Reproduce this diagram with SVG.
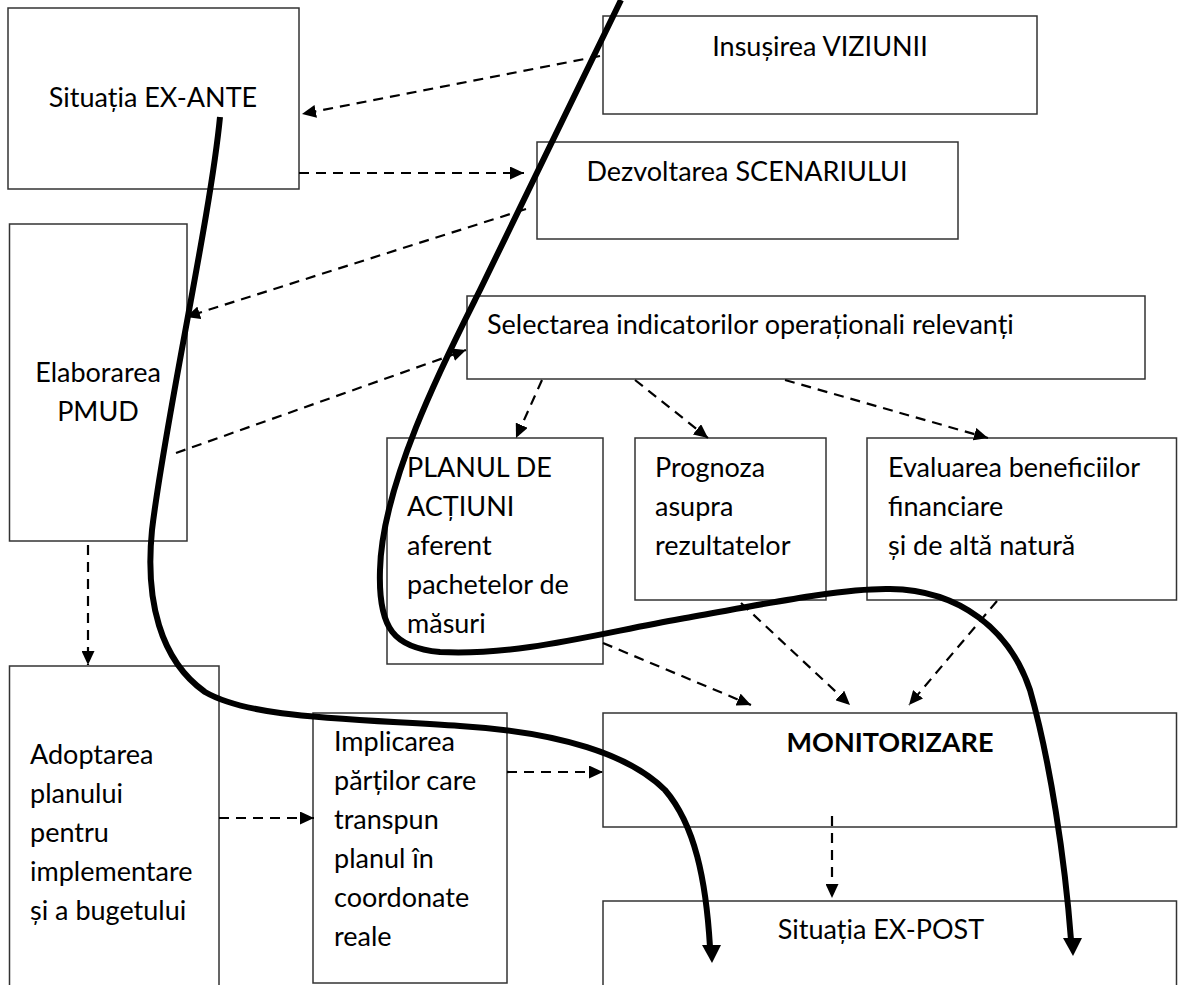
<svg xmlns="http://www.w3.org/2000/svg" width="1178" height="985" viewBox="0 0 1178 985">
<style>
  .box { fill: #fff; stroke: #333; stroke-width: 1.5; }
  .t { font-family: Lato, "Open Sans", "Liberation Sans", sans-serif; font-size: 27px; fill: #000; }
  .c { text-anchor: middle; }
  .b { font-weight: bold; }
  .dash { fill: none; stroke: #000; stroke-width: 2.2; stroke-dasharray: 10 7; marker-end: url(#ah); }
  .thick { fill: none; stroke: #000; stroke-width: 6; stroke-linecap: butt; }
  .head { fill: #000; }
</style>
<defs>
  <marker id="ah" markerUnits="userSpaceOnUse" markerWidth="15" markerHeight="13" refX="14" refY="6.5" orient="auto">
    <path d="M0,0 L14,6.5 L0,13 Z" fill="#000"/>
  </marker>
</defs>
<rect width="1178" height="985" fill="#fff"/>

<g id="ex-ante"><rect class="box" x="8" y="8" width="291" height="181"/><text class="t c" x="153" y="107">Situația EX-ANTE</text></g>
<g id="viziune"><rect class="box" x="603" y="16" width="434" height="98"/><text class="t c" x="820" y="56">Insușirea VIZIUNII</text></g>
<g id="scenariu"><rect class="box" x="537" y="142" width="421" height="97"/><text class="t c" x="747" y="181">Dezvoltarea SCENARIULUI</text></g>
<g id="elaborare"><rect class="box" x="9.5" y="224" width="177.5" height="317"/><text class="t c" x="98" y="382">Elaborarea</text><text class="t c" x="98" y="421">PMUD</text></g>
<g id="selectare"><rect class="box" x="467" y="296" width="678" height="83"/><text class="t" x="487" y="334">Selectarea indicatorilor operaționali relevanți</text></g>
<g id="plan"><rect class="box" x="387" y="438" width="216" height="226"/><text class="t" x="407" y="477">PLANUL DE</text><text class="t" x="407" y="516">ACȚIUNI</text><text class="t" x="407" y="555">aferent</text><text class="t" x="407" y="594">pachetelor de</text><text class="t" x="407" y="633">măsuri</text></g>
<g id="prognoza"><rect class="box" x="635" y="438" width="191" height="162"/><text class="t" x="655" y="477">Prognoza</text><text class="t" x="655" y="516">asupra</text><text class="t" x="655" y="555">rezultatelor</text></g>
<g id="evaluare"><rect class="box" x="867" y="438" width="309.5" height="162"/><text class="t" x="888" y="477">Evaluarea beneficiilor</text><text class="t" x="888" y="516">financiare</text><text class="t" x="888" y="555">și de altă natură</text></g>
<g id="adoptare"><rect class="box" x="9.5" y="666" width="209.5" height="330"/><text class="t" x="30" y="764">Adoptarea</text><text class="t" x="30" y="803">planului</text><text class="t" x="30" y="842">pentru</text><text class="t" x="30" y="881">implementare</text><text class="t" x="30" y="920">și a bugetului</text></g>
<g id="implicare"><rect class="box" x="313" y="713" width="194" height="270"/><text class="t" x="334" y="751">Implicarea</text><text class="t" x="334" y="790">părților care</text><text class="t" x="334" y="829">transpun</text><text class="t" x="334" y="868">planul în</text><text class="t" x="334" y="907">coordonate</text><text class="t" x="334" y="946">reale</text></g>
<g id="monitorizare"><rect class="box" x="603" y="713" width="573.5" height="114"/><text class="t c b" x="890" y="752">MONITORIZARE</text></g>
<g id="ex-post"><rect class="box" x="603" y="901" width="573.5" height="100"/><text class="t c" x="881" y="939">Situația EX-POST</text></g>

<g id="connectors">
  <line class="dash" x1="600" y1="56" x2="302" y2="114"/>
  <line class="dash" x1="299" y1="173" x2="524" y2="173"/>
  <line class="dash" x1="526" y1="209" x2="186" y2="317"/>
  <line class="dash" x1="176" y1="453" x2="466" y2="350"/>
  <line class="dash" x1="542" y1="380" x2="516" y2="438"/>
  <line class="dash" x1="635" y1="380" x2="708" y2="438"/>
  <line class="dash" x1="785" y1="380" x2="988" y2="438"/>
  <line class="dash" x1="603" y1="643" x2="751" y2="705"/>
  <line class="dash" x1="741" y1="603" x2="850" y2="705"/>
  <line class="dash" x1="997" y1="601" x2="909" y2="705"/>
  <line class="dash" x1="88" y1="545" x2="88" y2="665"/>
  <line class="dash" x1="219" y1="818" x2="314" y2="818"/>
  <line class="dash" x1="507" y1="772" x2="603" y2="772"/>
  <line class="dash" x1="832" y1="816" x2="832" y2="898"/>

  <path class="thick" d="M621,0 L480,290 C450,350 382,480 380,570 C378,630 395,648 440,652 C520,656 600,633 680,619 C760,605 840,588 890,589 C960,590 1010,630 1030,690 C1050,760 1065,860 1071,940"/>
  <polygon class="head" points="1063,938 1082,938 1073,956"/>
  <path class="thick" d="M220,117 C210,220 165,420 152,530 C145,600 160,660 205,692 C250,718 340,718 460,726 C560,732 630,755 665,790 C695,825 706,880 710,947"/>
  <polygon class="head" points="702,945 721,945 712,963"/>
</g>
</svg>
